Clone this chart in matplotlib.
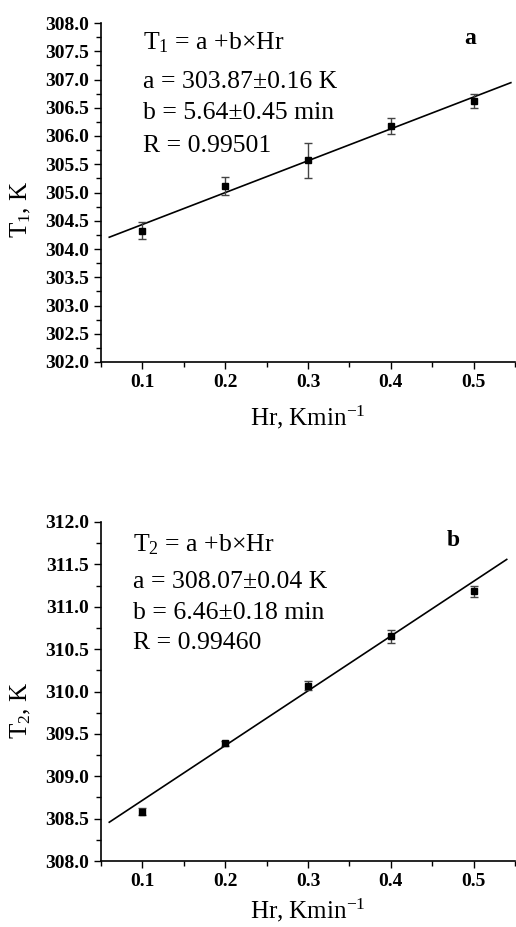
import matplotlib
matplotlib.use("Agg")
import matplotlib.pyplot as plt
from matplotlib.ticker import MultipleLocator, FormatStrFormatter

plt.rcParams['font.family'] = ['Liberation Serif', 'DejaVu Serif']
plt.rcParams['mathtext.fontset'] = 'custom'
plt.rcParams['mathtext.rm'] = 'Liberation Serif'
plt.rcParams['mathtext.it'] = 'Liberation Serif:italic'
plt.rcParams['mathtext.bf'] = 'Liberation Serif:bold'

# Data
hr = [0.1, 0.2, 0.3, 0.4, 0.5]
t1 = [304.32, 305.12, 305.57, 306.17, 306.62]
t1_err = [0.15, 0.16, 0.31, 0.14, 0.13]
t2 = [308.58, 309.39, 310.07, 310.65, 311.18]
t2_err = [0.04, 0.03, 0.05, 0.08, 0.07]
fit1 = (303.87, 5.64)
fit2 = (308.07, 6.46)
fit1_x = [0.06, 0.545]
fit2_x = [0.06, 0.54]

panels = [
    dict(y=t1, err=t1_err, fit=fit1, fx=fit1_x, ylim=(302.0, 308.0),
         ylabel=r'T$_\mathrm{1}$, K', label='a',
         lines=[r'T$_\mathrm{1}$ = a +b×Hr', 'a = 303.87±0.16 K',
                'b = 5.64±0.45 min', 'R = 0.99501'],
         rect=[101/516, 1-362/927, 414/516, 339/927],
         tx=143, ty=[43, 82, 113, 146], lab=(470, 38), ylc=0.451, lp=9),
    dict(y=t2, err=t2_err, fit=fit2, fx=fit2_x, ylim=(308.0, 312.0),
         ylabel=r'T$_\mathrm{2}$, K', label='b',
         lines=[r'T$_\mathrm{2}$ = a +b×Hr', 'a = 308.07±0.04 K',
                'b = 6.46±0.18 min', 'R = 0.99460'],
         rect=[101/516, 1-861/927, 414/516, 339/927],
         tx=133, ty=[545, 582, 613, 643], lab=(453, 540), ylc=0.445, lp=5),
]

fig = plt.figure(figsize=(5.16, 9.27), dpi=100)
W, H = 516, 927
for p in panels:
    ax = fig.add_axes(p['rect'])
    a, b = p['fit']
    ax.plot(p['fx'], [a + b * x for x in p['fx']], color='black', lw=1.2, zorder=2)
    ax.errorbar(hr, p['y'], yerr=p['err'], fmt='s', color='black', ms=5,
                ecolor='#444444', elinewidth=1.0, capsize=3, capthick=1.0, zorder=3)
    ax.set_xlim(0.05, 0.55)
    ax.set_ylim(*p['ylim'])
    for s in ['top', 'right']:
        ax.spines[s].set_visible(False)
    for s in ['left', 'bottom']:
        ax.spines[s].set_linewidth(1.2)
    ax.xaxis.set_major_locator(MultipleLocator(0.1))
    ax.xaxis.set_minor_locator(MultipleLocator(0.05))
    ax.yaxis.set_major_locator(MultipleLocator(0.5))
    ax.yaxis.set_minor_locator(MultipleLocator(0.25))
    ax.xaxis.set_major_formatter(FormatStrFormatter('%.1f'))
    ax.yaxis.set_major_formatter(FormatStrFormatter('%.1f'))
    ax.tick_params(which='major', direction='out', length=5, width=1.0, labelsize=14, pad=3.5)
    ax.tick_params(which='minor', direction='out', length=3.5, width=1.0)
    for lbl in ax.get_xticklabels() + ax.get_yticklabels():
        lbl.set_fontweight('bold')
    ax.set_ylabel(p['ylabel'], fontsize=18)
    ax.yaxis.set_label_coords(-0.165, p['ylc'])
    ax.set_xlabel(r'Hr, Kmin$^{-1}$', fontsize=18, labelpad=p['lp'])
    for line, yy in zip(p['lines'], p['ty']):
        fig.text(p['tx'] / W, 1 - yy / H, line, fontsize=18.5, ha='left', va='center')
    fig.text(p['lab'][0] / W, 1 - p['lab'][1] / H, p['label'], fontsize=17,
             fontweight='bold', ha='center', va='center')

fig.savefig('out.png', dpi=100)
